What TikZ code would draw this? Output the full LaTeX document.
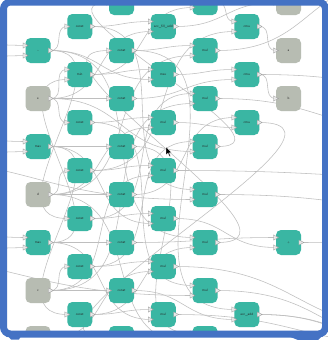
\documentclass[tikz,border=0pt]{standalone}
\usetikzlibrary{calc}
\definecolor{frameblue}{RGB}{68,114,196}
\definecolor{opteal}{RGB}{58,182,163}
\definecolor{iogray}{RGB}{183,188,178}
\definecolor{wiregray}{RGB}{190,190,190}
\definecolor{portfill}{RGB}{232,232,232}
\definecolor{portline}{RGB}{150,150,150}
\pgfdeclarelayer{wires}
\pgfsetlayers{wires,main}
\tikzset{blk/.style={rectangle,rounded corners=5pt,fill=opteal,minimum width=25pt,minimum height=25pt,
           inner sep=0pt,font=\sffamily\fontsize{3.4}{4}\selectfont,text=black!85},
         iobox/.style={blk,fill=iogray},
         wire/.style={draw=wiregray,line width=0.55pt},
         portpic/.pic={\filldraw[fill=portfill,draw=portline,line width=0.3pt]
           (-2.3,-2.6) -- (2.7,0) -- (-2.3,2.6) -- cycle;},
         frame/.style={draw=frameblue,line width=7pt,rounded corners=7pt}}

\begin{document}
\begin{tikzpicture}[x=1pt,y=-1pt]
  \useasboundingbox (0,0) rectangle (328,340);
  % operator blocks: two inputs, one output
  \foreach \n/\x/\y/\t in {a2/38/50.5/\textasciitilde, a6/38/146.5/max, a10/38/242.5/max,
      b3/79.75/74.5/min,
      d1/163.25/26.5/acc\_fill\_add, d3/163.25/74.5/max, d5/163.25/122.5/mul, d7/163.25/170.5/mul,
      d9/163.25/218.5/mul, d11/163.25/266.5/mul, d13/163.25/314.5/mul,
      e0/205/2.5/mul, e2/205/50.5/mul, e4/205/98.5/mul, e6/205/146.5/mul, e8/205/194.5/mul,
      e10/205/242.5/mul, e12/205/290.5/mul, e14/205/338.5/mul,
      f1/246.75/26.5/cmu, f3/246.75/74.5/cmu, f5/246.75/122.5/cmu, f13/246.75/314.5/acc\_add,
      g10/288.5/242.5/+} {
    \node[blk] (\n) at (\x,\y) {\t};
    \coordinate (\n-i1) at ([yshift=5pt]\n.west);
    \coordinate (\n-i2) at ([yshift=-5pt]\n.west);
    \coordinate (\n-o) at (\n.east);
    \pic at (\n-i1) {portpic};
    \pic at (\n-i2) {portpic};
    \pic at (\n-o) {portpic};
  }
  % const blocks: one input
  \foreach \n/\x/\y in {b1/79.75/26.5, b5/79.75/122.5, b7/79.75/170.5, b9/79.75/218.5,
      b11/79.75/266.5, b13/79.75/314.5,
      c0/121.5/2.5, c2/121.5/50.5, c4/121.5/98.5, c6/121.5/146.5, c8/121.5/194.5,
      c10/121.5/242.5, c12/121.5/290.5, c14/121.5/338.5} {
    \node[blk] (\n) at (\x,\y) {const};
    \coordinate (\n-i) at (\n.west);
    \coordinate (\n-o) at (\n.east);
    \pic at (\n-i) {portpic};
    \pic at (\n-o) {portpic};
  }
  % inputs and outputs of the graph
  \foreach \n/\x/\y/\t in {a4/38/98.5/e, a8/38/194.5/d, a12/38/290.5/c, a14/38/338.5/{}} {
    \node[iobox] (\n) at (\x,\y) {\t};
    \coordinate (\n-o) at (\n.east);
    \pic at (\n-o) {portpic};
  }
  \foreach \n/\x/\y/\t in {g0/288.5/2.5/{}, g2/288.5/50.5/a, g4/288.5/98.5/b} {
    \node[iobox] (\n) at (\x,\y) {\t};
    \coordinate (\n-i) at (\n.west);
    \pic at (\n-i) {portpic};
  }
  % wire ends outside the view
  \coordinate (L1) at (-30,44);   \coordinate (L2) at (-30,57);
  \coordinate (L3) at (-30,139);  \coordinate (L4) at (-30,153);
  \coordinate (L5) at (-30,235);  \coordinate (L6) at (-30,249);
  \coordinate (L7) at (-120,158); \coordinate (L8) at (-160,252);
  \coordinate (R1) at (420,84);   \coordinate (R2) at (480,212);
  \coordinate (R3) at (420,345);  \coordinate (R4) at (420,330);
  \coordinate (R5) at (400,360);  \coordinate (R6) at (440,352);
  \coordinate (R7) at (420,238);  \coordinate (R8) at (500,180);
  \coordinate (R9) at (420,345);  \coordinate (R10) at (400,-20);
  \coordinate (R11) at (420,130);
  \begin{pgfonlayer}{wires}
    \fill[white] (0,0) rectangle (328,340);
    \foreach \s/\t in {L1/a2-i1, L2/a2-i2, L3/a6-i1, L4/a6-i2, L5/a10-i1, L6/a10-i2, L7/e8-i2, L8/e12-i2,
        a2-o/b1-i, a2-o/b9-i, a2-o/d3-i2, a2-o/e10-i1,
        a4-o/b3-i1, a4-o/b5-i, a4-o/c4-i, a4-o/d1-i2, a4-o/e6-i2,
        a6-o/c6-i, a6-o/d9-i2, a6-o/b13-i,
        a8-o/b7-i, a8-o/c8-i, a8-o/d5-i2, a8-o/e2-i2, a8-o/e14-i2,
        a10-o/c10-i, a10-o/d13-i2, a10-o/b3-i2,
        a12-o/b11-i, a12-o/c12-i, a12-o/d7-i2, a12-o/e4-i2,
        a14-o/d11-i2,
        b1-o/d1-i1, b1-o/e8-i1, b3-o/d3-i1, b3-o/e0-i2, b5-o/d5-i1, b5-o/e12-i1, b7-o/d7-i1, b7-o/f1-i2,
        b9-o/d9-i1, b9-o/e4-i1, b11-o/d11-i1, b11-o/e6-i1, b13-o/d13-i1, b13-o/e10-i2,
        c0-o/e0-i1, c2-o/e2-i1, c2-o/f13-i1, c4-o/f3-i2, c6-o/e14-i1, c8-o/f5-i1, c10-o/g10-i1,
        c12-o/f13-i2, c14-o/R5,
        d1-o/g0-i, d3-o/f3-i1, d5-o/f5-i2, d7-o/R8, d9-o/g10-i2, d11-o/R4, d13-o/R3,
        e0-o/f1-i1, e2-o/R10, e4-o/R11, e6-o/c0-i, e8-o/R2, e10-o/c2-i, e12-o/R6, e14-o/R9,
        f1-o/g2-i, f3-o/g4-i, f3-o/R1, f5-o/c14-i, f13-o/R3, f13-o/R6, g10-o/R7}
      \draw[wire] (\s) to[out=0,in=180,looseness=1.25] (\t);
  \end{pgfonlayer}
  % mouse pointer
  \filldraw[fill=black,draw=white,line width=0.3pt] (166,147) -- (166,155) -- (168,153.2) -- (169.5,156.5)
    -- (170.6,156) -- (169.1,152.8) -- (171.7,152.6) -- cycle;
  % highlight frame
  \fill[white] (0,337) rectangle (328,341);
  \draw[frame] (3.5,2) rectangle (325.5,334);
  \fill[frameblue] (8,336) -- (21,336) -- (19,339.5) -- (11,339.5) -- cycle;
  \fill[frameblue] (288,336) -- (322,336) -- (318,340) -- (298,340) -- cycle;
\end{tikzpicture}
\end{document}
